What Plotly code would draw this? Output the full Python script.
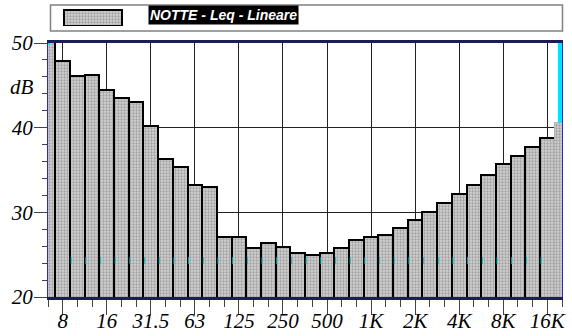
import plotly.graph_objects as go
import numpy as np

# Third-octave bands (Hz)
bands = ["6.3", "8", "10", "12.5", "16", "20", "25", "31.5", "40", "50", "63", "80",
         "100", "125", "160", "200", "250", "315", "400", "500", "630", "800",
         "1K", "1.25K", "1.6K", "2K", "2.5K", "3.15K", "4K", "5K", "6.3K", "8K",
         "10K", "12.5K", "16K", "20K"]
# Leq levels (dB, linear)
levels = [50.5, 47.85, 46.16, 46.28, 44.44, 43.53, 42.99, 40.2, 36.35, 35.34, 33.18, 33.02,
          27.14, 27.14, 25.76, 26.35, 25.96, 25.18, 25.02, 25.22, 25.76, 26.79,
          27.06, 27.34, 28.12, 29.1, 30.08, 31.06, 32.16, 33.22, 34.44, 35.69,
          36.67, 37.76, 38.82, 40.59]
octave_labels = ["8", "16", "31.5", "63", "125", "250", "500", "1K", "2K", "4K", "8K", "16K"]
y_ticks = [20, 30, 40, 50]
ref_level = 24.3
series_name = "NOTTE - Leq - Lineare"

idx = np.arange(len(bands))
oct_pos = [bands.index(b) for b in octave_labels]

W, H = 572, 336
ml, mr, mt, mb = 48, 10, 5, 39
pw, ph = W - ml - mr, H - mt - mb
plot_top_px = 43
ydom_top = (H - mb - plot_top_px) / ph

def px_x(p):
    return (p - ml) / pw

def px_y(p):
    return (H - mb - p) / ph

pattern = dict(shape=".", fgcolor="#6e6e6e", bgcolor="#d2d2d2", size=3, solidity=0.45)
line_colors = ["black"] * (len(bands) - 1) + ["#b4b4b4"]
line_widths = [2] * (len(bands) - 1) + [1]

fig = go.Figure()
fig.add_trace(go.Bar(
    x=idx, y=levels, width=1,
    marker=dict(color="#cccccc", pattern=pattern,
                line=dict(color=line_colors, width=line_widths)),
    name=series_name, showlegend=False, hoverinfo="skip"))

# small cyan marks at band boundaries
fig.add_trace(go.Scatter(
    x=idx[2:-1] - 0.42, y=[ref_level] * len(idx[2:-1]), mode="markers",
    marker=dict(symbol="line-ns", size=5, line=dict(color="#00c0c8", width=1)),
    showlegend=False, hoverinfo="skip"))

# legend swatch as a tiny bar on its own axes
fig.add_trace(go.Bar(
    x=[0], y=[1], width=1, xaxis="x3", yaxis="y3",
    marker=dict(color="#cccccc", pattern=pattern, line=dict(color="black", width=2)),
    showlegend=False, hoverinfo="skip"))

serif = "Liberation Serif"
tickfont = dict(family=serif, size=21, color="black", style="italic")

fig.update_layout(
    width=W, height=H,
    margin=dict(l=ml, r=mr, t=mt, b=mb, autoexpand=False),
    paper_bgcolor="white", plot_bgcolor="white",
    bargap=0,
    xaxis=dict(
        range=[0, len(bands) - 1], tickmode="array", tickvals=oct_pos,
        ticktext=octave_labels,
        ticks="outside", ticklen=15, tickwidth=1, tickcolor="#444",
        minor=dict(ticks="outside", ticklen=7, tickwidth=1, tickcolor="#444",
                   dtick=1, tick0=0, showgrid=False),
        showgrid=True, gridcolor="#222", gridwidth=1,
        showline=True, linecolor="#1c1c5c", linewidth=2.5, mirror=True,
        zeroline=False, tickfont=tickfont, anchor="y", automargin=False,
        ticklabelstandoff=-12),
    yaxis=dict(
        domain=[0, ydom_top], range=[20, 50], tickmode="array", tickvals=y_ticks,
        ticktext=["%d" % v for v in y_ticks],
        ticks="outside", ticklen=13, tickwidth=1, tickcolor="#444",
        minor=dict(ticks="outside", ticklen=5, tickwidth=1, tickcolor="#444",
                   dtick=2, tick0=20, showgrid=False),
        showgrid=True, gridcolor="#222", gridwidth=1,
        showline=True, linecolor="#2a2ad0", linewidth=1, mirror=True,
        zeroline=False, tickfont=tickfont, anchor="x", automargin=False,
        ticklabelstandoff=-3),
    xaxis3=dict(domain=[px_x(63), px_x(123)], range=[-0.52, 0.52], visible=False,
                anchor="y3", fixedrange=True),
    yaxis3=dict(domain=[px_y(26), px_y(9)], range=[0, 1.04], visible=False,
                anchor="x3", fixedrange=True),
)

# legend frame
fig.add_shape(type="rect", xref="paper", yref="paper",
              x0=px_x(50.5), x1=px_x(562.5), y0=px_y(31), y1=px_y(5),
              line=dict(color="#808080", width=1.5), fillcolor="rgba(0,0,0,0)", layer="below")
fig.add_annotation(xref="paper", yref="paper", x=px_x(148), y=px_y(15),
                   xanchor="left", yanchor="middle", showarrow=False,
                   text="<b><i>" + series_name + "</i></b>",
                   font=dict(family="Liberation Sans", size=14, color="white"),
                   bgcolor="black", borderpad=1)

# cyan marker strip over last band, and tiny one at top-left
fig.add_shape(type="rect", xref="x", yref="y", x0=len(bands) - 1.28, x1=len(bands) - 1,
              y0=levels[-1], y1=50, fillcolor="#00e4ff", line=dict(width=0), layer="above")
fig.add_shape(type="rect", xref="x", yref="y", x0=0, x1=0.15, y0=49.75, y1=50,
              fillcolor="#00e4ff", line=dict(width=0), layer="above")

# "dB" unit label
fig.add_annotation(xref="paper", yref="paper", x=px_x(22), y=px_y(87),
                   xanchor="center", yanchor="middle", showarrow=False, text="dB",
                   font=dict(family=serif, size=21, color="black", style="italic"))

fig.write_html("out.html")
